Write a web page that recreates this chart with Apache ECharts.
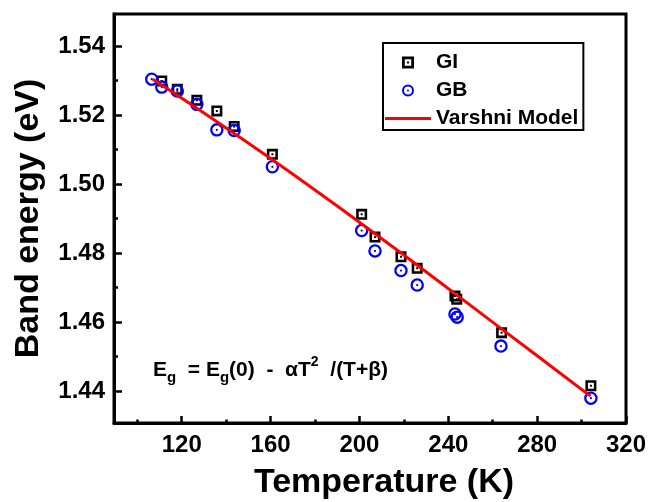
<!DOCTYPE html>
<html>
<head>
<meta charset="utf-8">
<script src="https://cdn.jsdelivr.net/npm/echarts@6/dist/echarts.min.js"></script>
<style>
  html, body { margin: 0; padding: 0; background: #fff; }
  #chart { width: 649px; height: 502px; }
</style>
</head>
<body>
<div id="chart"></div>
<script>
// values
const giTemp = [111, 118, 126.8, 135.8, 143.6, 160.8, 201, 207, 218.7, 226, 243, 243.8, 264, 304.2];
const giEnergy = [1.5299, 1.5275, 1.5243, 1.5212, 1.5167, 1.5086, 1.4912, 1.4846, 1.4789, 1.4756, 1.4675, 1.4666, 1.4569, 1.4415];

const gbTemp = [106.5, 111, 118, 126.8, 135.8, 143.6, 160.8, 201, 207, 218.7, 226, 243, 244, 263.7, 304.2];
const gbEnergy = [1.5304, 1.5281, 1.5270, 1.5231, 1.5157, 1.5155, 1.5050, 1.4865, 1.4806, 1.4749, 1.4707, 1.4623, 1.4614, 1.4530, 1.4379];

const fitTemp = [107, 130, 160, 190, 220, 250, 280, 304];
const fitEnergy = [1.5304, 1.5206, 1.5074, 1.4936, 1.4794, 1.4648, 1.4502, 1.4385];

const xTicks = [120, 160, 200, 240, 280, 320];
const xMinorTicks = [100, 140, 180, 220, 260, 300];
const yTicks = [1.44, 1.46, 1.48, 1.50, 1.52, 1.54];
const yMinorTicks = [1.45, 1.47, 1.49, 1.51, 1.53];

const xMin = 89.5, xMax = 320;
const yMin = 1.4307, yMax = 1.5493;

const font = "'Liberation Sans', Arial, sans-serif";

// hollow square with a centre dot, hollow circle with a centre dot
const squareDot = 'path://M0 0H10V10H0Z M2.3 2.3V7.7H7.7V2.3Z M4.1 4.1H5.9V5.9H4.1Z';
const circleDot = 'path://M0 6.5A6.5 6.5 0 1 1 13 6.5A6.5 6.5 0 1 1 0 6.5Z ' +
  'M2.2 6.5A4.3 4.3 0 1 0 10.8 6.5A4.3 4.3 0 1 0 2.2 6.5Z ' +
  'M5.4 6.5A1.1 1.1 0 1 1 7.6 6.5A1.1 1.1 0 1 1 5.4 6.5Z';
const lineIcon = 'path://M0 0H46V3H0Z';

const pairs = (xs, ys) => xs.map((x, i) => [x, ys[i]]);

const chart = echarts.init(document.getElementById('chart'));
chart.setOption({
  animation: false,
  backgroundColor: '#fff',
  grid: {
    left: 114, right: 23, top: 14, bottom: 79,
    show: true, borderColor: '#000', borderWidth: 3,
    outerBoundsMode: 'none'
  },
  legend: {
    data: ['GI', 'GB', { name: 'Varshni Model', icon: lineIcon }],
    orient: 'vertical',
    left: 383, top: 43,
    itemWidth: 46, itemHeight: 12, itemGap: 7,
    padding: [9, 5, 1, 2],
    borderColor: '#000', borderWidth: 2,
    backgroundColor: '#fff',
    selectedMode: false,
    textStyle: { fontSize: 21, fontWeight: 'bold', color: '#000', fontFamily: font }
  },
  xAxis: [{
    type: 'value', position: 'bottom',
    min: xMin, max: xMax,
    splitLine: { show: false },
    axisLine: { lineStyle: { color: '#000', width: 3 } },
    axisTick: { inside: true, length: 7, customValues: xTicks, lineStyle: { color: '#000', width: 2.5 } },
    axisLabel: { customValues: xTicks, margin: 10, color: '#000', fontSize: 24, fontWeight: 'bold', fontFamily: font },
    name: 'Temperature (K)',
    nameLocation: 'middle',
    nameGap: 43,
    nameMoveOverlap: false,
    nameTextStyle: { fontSize: 34, fontWeight: 'bold', color: '#000', fontFamily: font, padding: [0, 0, 0, 28] }
  }, {
    type: 'value', position: 'bottom',
    min: xMin, max: xMax,
    splitLine: { show: false },
    axisLine: { show: false },
    axisLabel: { show: false },
    axisTick: { inside: true, length: 3.5, customValues: xMinorTicks, lineStyle: { color: '#000', width: 2.5 } }
  }],
  yAxis: [{
    type: 'value', position: 'left',
    min: yMin, max: yMax,
    splitLine: { show: false },
    axisLine: { lineStyle: { color: '#000', width: 3 } },
    axisTick: { inside: true, length: 8, customValues: yTicks, lineStyle: { color: '#000', width: 2.5 } },
    axisLabel: {
      customValues: yTicks, margin: 9, color: '#000', fontSize: 24, fontWeight: 'bold', fontFamily: font,
      formatter: v => v.toFixed(2)
    },
    name: 'Band energy (eV)',
    nameLocation: 'middle',
    nameGap: 68,
    nameMoveOverlap: false,
    nameTextStyle: { fontSize: 34, fontWeight: 'bold', color: '#000', fontFamily: font }
  }, {
    type: 'value', position: 'left',
    min: yMin, max: yMax,
    splitLine: { show: false },
    axisLine: { show: false },
    axisLabel: { show: false },
    axisTick: { inside: true, length: 4, customValues: yMinorTicks, lineStyle: { color: '#000', width: 2.5 } }
  }],
  series: [{
    name: 'GI',
    type: 'scatter',
    symbol: squareDot,
    symbolSize: 11,
    itemStyle: { color: '#000', opacity: 1 },
    data: pairs(giTemp, giEnergy)
  }, {
    name: 'GB',
    type: 'scatter',
    symbol: circleDot,
    symbolSize: 13.5,
    itemStyle: { color: '#0000ff', opacity: 1 },
    data: pairs(gbTemp, gbEnergy)
  }, {
    name: 'Varshni Model',
    type: 'line',
    symbol: 'none',
    smooth: 0.3,
    lineStyle: { color: '#ff0000', width: 3 },
    itemStyle: { color: '#ff0000' },
    data: pairs(fitTemp, fitEnergy)
  }],
  graphic: [{
    type: 'text',
    left: 153, top: 355,
    style: {
      text: '{b|E}{s|g}{b|  = E}{s|g}{b|(0)  -  \u03b1T}{p|2}{b|  /(T+\u03b2)}',
      rich: {
        b: { fontSize: 21, fontWeight: 'bold', fontFamily: font, fill: '#000', lineHeight: 30 },
        s: { fontSize: 15, fontWeight: 'bold', fontFamily: font, fill: '#000', lineHeight: 6, verticalAlign: 'bottom' },
        p: { fontSize: 14, fontWeight: 'bold', fontFamily: font, fill: '#000', lineHeight: 20, verticalAlign: 'top' }
      }
    }
  }]
});
</script>
</body>
</html>
